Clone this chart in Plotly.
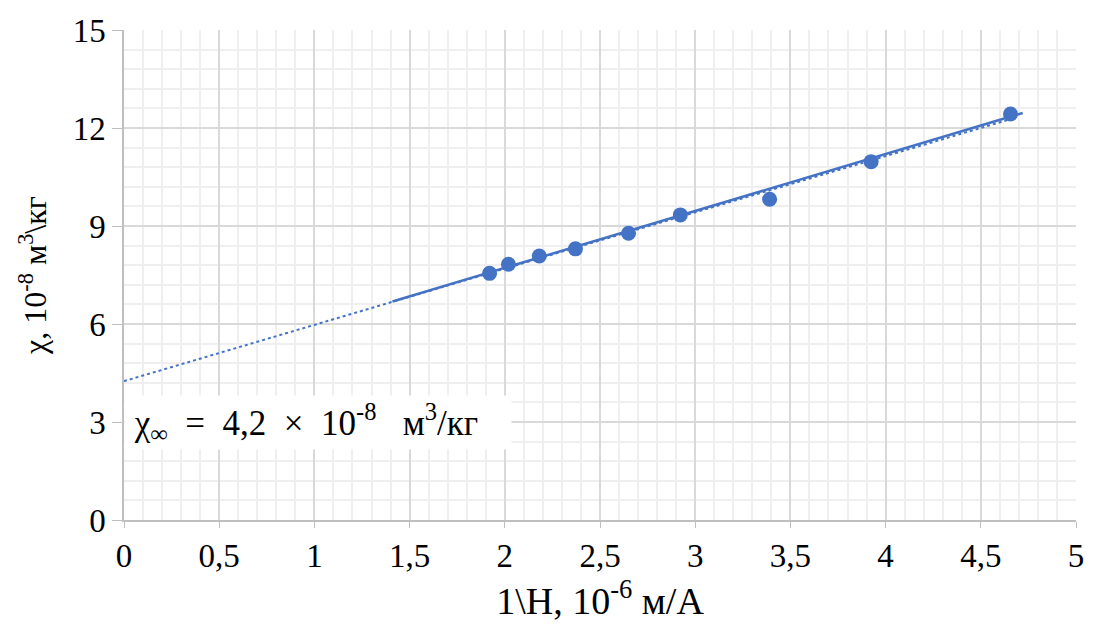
import numpy as np
import plotly.graph_objects as go

# Data
inv_h = [1.920, 2.019, 2.181, 2.371, 2.650, 2.922, 3.391, 3.924, 4.656]
chi = [7.55, 7.83, 8.08, 8.30, 8.78, 9.34, 9.82, 10.97, 12.43]

# solid guide line endpoints
solid_x = [1.41, 4.72]
solid_y = [6.69, 12.46]

x_tickvals = [0, 0.5, 1, 1.5, 2, 2.5, 3, 3.5, 4, 4.5, 5]
x_ticktext = ["0", "0,5", "1", "1,5", "2", "2,5", "3", "3,5", "4", "4,5", "5"]
y_tickvals = [0, 3, 6, 9, 12, 15]
y_ticktext = ["0", "3", "6", "9", "12", "15"]

# linear trend (least squares) extended back to 0
k, b = np.polyfit(inv_h, chi, 1)
trend_x = np.array([0.0, max(inv_h)])
trend_y = k * trend_x + b

blue = "#4472C4"
font = "Liberation Serif, Times New Roman, DejaVu Serif, serif"

fig = go.Figure()
fig.add_trace(go.Scatter(x=trend_x, y=trend_y, mode="lines",
                         line=dict(color=blue, width=2, dash="dot"),
                         showlegend=False, hoverinfo="skip"))
fig.add_trace(go.Scatter(x=solid_x, y=solid_y, mode="lines",
                         line=dict(color=blue, width=2.5),
                         showlegend=False, hoverinfo="skip"))
fig.add_trace(go.Scatter(x=inv_h, y=chi, mode="markers",
                         marker=dict(color=blue, size=15),
                         showlegend=False))

sp2, sp3 = "\u00a0" * 2, "\u00a0" * 3
fig.add_annotation(
    x=0, y=3, xref="x", yref="y", xanchor="left", yanchor="middle",
    text=("\u00a0χ<sub>∞</sub>" + sp2 + "=" + sp2 + "4,2" + sp2 + "×" + sp2
          + "10<sup>-8</sup>" + sp3 + "м<sup>3</sup>/кг"),
    showarrow=False, bgcolor="white", width=384, height=51, align="left",
    font=dict(family=font, size=35, color="black"),
)

fig.update_layout(
    width=1096, height=632,
    margin=dict(l=124, r=12, t=30, b=112),
    paper_bgcolor="white", plot_bgcolor="white",
    font=dict(family=font, size=33, color="black"),
)
fig.update_xaxes(
    range=[0, 5], tickvals=x_tickvals, ticktext=x_ticktext,
    showgrid=True, gridcolor="#d9d9d9", gridwidth=1.5,
    minor=dict(dtick=0.1, showgrid=True, gridcolor="#efefef", gridwidth=1.5),
    showline=True, linecolor="#bfbfbf", linewidth=1.5,
    ticks="outside", ticklen=6, tickcolor="#bfbfbf",
    zeroline=False,
    title=dict(text="1\\H, 10<sup>-6</sup> м/А", font=dict(family=font, size=38), standoff=2),
    tickfont=dict(family=font, size=33),
)
fig.update_yaxes(
    range=[0, 15], tickvals=y_tickvals, ticktext=y_ticktext,
    showgrid=True, gridcolor="#d9d9d9", gridwidth=1.5,
    minor=dict(dtick=0.6, showgrid=True, gridcolor="#efefef", gridwidth=1.5),
    showline=True, linecolor="#bfbfbf", linewidth=1.5,
    ticks="outside", ticklen=10, tickcolor="#bfbfbf",
    zeroline=False,
    title=dict(text="χ, 10<sup>-8</sup> м<sup>3</sup>\\кг", font=dict(family=font, size=32), standoff=16),
    tickfont=dict(family=font, size=33),
)

fig.write_html("out.html")
